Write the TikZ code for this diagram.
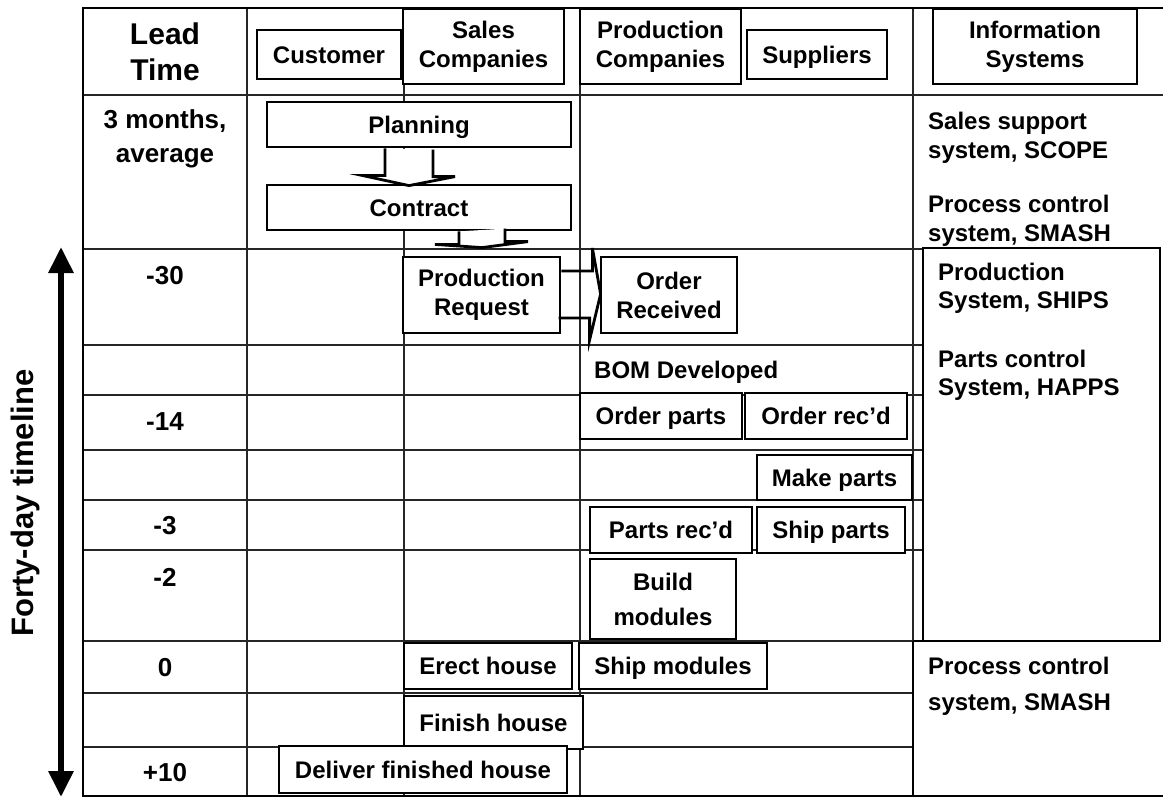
\documentclass[tikz,border=0pt]{standalone}
\usepackage{fontspec}
\setmainfont{Liberation Sans}
\usetikzlibrary{calc,arrows.meta}
\begin{document}
\begin{tikzpicture}[x=1pt,y=-1pt,
  gridline/.style={line width=1.3pt, draw=black!85},
  frameline/.style={line width=2.8pt},
  box/.style={draw, line width=2.8pt, fill=white, inner sep=0pt, align=center,
    font=\bfseries\fontsize{24}{29}\selectfont},
  one/.style={text height=17.2pt, text depth=0pt},
  lbl/.style={inner sep=0pt, align=center, font=\bfseries\fontsize{26}{34}\selectfont},
  info/.style={inner sep=0pt, align=left, anchor=north west,
    font=\bfseries\fontsize{24}{29}\selectfont},
  plain/.style={inner sep=0pt, font=\bfseries\fontsize{24}{29}\selectfont},
  barrow/.style={draw, line width=2.8pt, line join=miter}]
\useasboundingbox (0,0) rectangle (1163,798);

% grid
\foreach \xx in {247,404,580,913} \draw[gridline] (\xx,8) -- (\xx,796);
\draw[gridline] (83,95) -- (1163,95);
\foreach \yy in {249,345,395,450,500,550,641,693,747} \draw[gridline] (83,\yy) -- (913,\yy);
\foreach \yy in {249,345,395,450,500,550} \draw[gridline] (913,\yy) -- (923,\yy);
% frame
\draw[frameline] (83,8) -- (1163,8);
\draw[frameline] (83,796) -- (1163,796);
\draw[frameline] (83,6.6) -- (83,797.4);
\draw[frameline] (913,641) -- (913,797.4);

% production system box
\node[draw, line width=2.8pt, fill=white, minimum width=237pt, minimum height=393pt, inner sep=0pt] (prodsys) at (1041.5,444.5) {};
\draw[frameline] (913,641) -- (1161.4,641);

% header
\node[lbl, font=\bfseries\fontsize{30}{36}\selectfont] (lead) at (165,52) {Lead\\Time};
\node[box, one, minimum width=144pt, minimum height=49pt] (cust) at (329,54.5) {Customer};
\node[box, minimum width=161pt, minimum height=75pt] (sales) at (483.5,46.5) {Sales\\Companies};
\node[box, minimum width=161pt, minimum height=75pt] (prodco) at (660.5,46.5) {Production\\Companies};
\node[box, one, minimum width=140pt, minimum height=49pt] (supp) at (817,54.5) {Suppliers};
\node[box, minimum width=204pt, minimum height=75pt] (infosys) at (1035,46.5) {Information\\Systems};

% row 1
\node[lbl, anchor=north] (months) at (165,109) {3 months,\\average};
\node[box, one, minimum width=304pt, minimum height=45pt] (plan) at (419,124.5) {Planning};
\node[box, one, minimum width=304pt, minimum height=45pt] (contract) at (419,207.5) {Contract};
\node[info] (scope) at (928,112) {Sales support\\system, SCOPE};
\node[info] (smash1) at (928,195) {Process control\\system, SMASH};

% row -30
\node[lbl] (n30) at (165,276) {-30};
\node[box, minimum width=157pt, minimum height=76pt] (prodreq) at (481.5,295) {Production\\Request};
\node[box, minimum width=136pt, minimum height=76pt] (orderrec) at (669,295) {Order\\Received};
\node[info, font=\bfseries\fontsize{24}{28}\selectfont] (ships) at (938,263) {Production\\System, SHIPS};
\node[info, font=\bfseries\fontsize{24}{28}\selectfont] (happs) at (938,350) {Parts control\\System, HAPPS};

% BOM
\node[plain, anchor=west, one] (bom) at (594,370) {BOM Developed};

% row -14
\node[lbl] (n14) at (165,422) {-14};
\node[box, one, minimum width=162pt, minimum height=46pt] (orderparts) at (661,416) {Order parts};
\node[box, one, minimum width=162pt, minimum height=46pt] (orderrecd) at (826,416) {Order rec’d};

% make parts
\node[box, one, minimum width=155pt, minimum height=45pt] (makeparts) at (834.5,477.5) {Make parts};

% row -3
\node[lbl] (n3) at (165,526) {-3};
\node[box, one, minimum width=162pt, minimum height=46pt] (partsrecd) at (671,530) {Parts rec’d};
\node[box, one, minimum width=148pt, minimum height=46pt] (shipparts) at (831,530) {Ship parts};

% row -2
\node[lbl] (n2) at (165,577) {-2};
\node[box, minimum width=146pt, minimum height=80pt] (build) at (663,599) {Build\\[6pt]modules};

% row 0
\node[lbl] (n0) at (165,668) {0};
\node[box, one, minimum width=168pt, minimum height=46pt] (erect) at (488,666) {Erect house};
\node[box, one, minimum width=188pt, minimum height=46pt] (shipmod) at (673,666) {Ship modules};
\node[info, font=\bfseries\fontsize{24}{36}\selectfont] (smash2) at (928,657) {Process control\\system, SMASH};

% finish
\node[box, one, minimum width=179pt, minimum height=53pt] (finish) at (493.5,722.5) {Finish house};

% +10
\node[lbl] (p10) at (165,773) {+10};
\node[box, one, minimum width=288pt, minimum height=47pt] (deliver) at (423,769.5) {Deliver finished house};

% block arrows
\draw[barrow, fill=white] ([xshift=-34pt]plan.south) -- ++(0,27) -- ++(-23,0)
   -- ([xshift=-10pt,yshift=-2pt]contract.north) -- ++(46,-9) -- ++(-22,0) -- ++(0,-27);
\draw[barrow, fill=white] ([xshift=40pt]contract.south) -- ++(0,13) -- ++(-24,0)
   -- ($(prodreq.north)+(0.5,-8)$) -- ++(46,-6) -- ++(-23,0) -- ++(0,-13);
\draw[barrow] ([yshift=24pt]prodreq.east) -- ++(31,0) -- ++(0,-23)
   -- ($(orderrec.west)+(1,-1)$) -- ++(-11,46) -- ++(0,-22) -- ++(-31,0);

% timeline
\coordinate (tltop) at (61,247);
\coordinate (tlbot) at (61,797);
\draw[line width=6pt, {Triangle[width=24pt,length=26pt]}-{Triangle[width=24pt,length=26pt]}] (tltop) -- (tlbot);
\node[lbl, font=\bfseries\fontsize{31}{36}\selectfont, rotate=90] (timeline) at (25,503) {Forty-day timeline};
\end{tikzpicture}
\end{document}
